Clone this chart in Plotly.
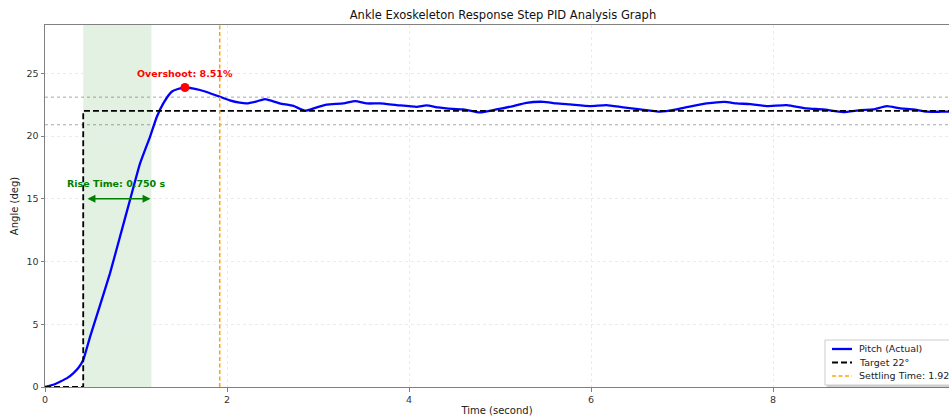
import plotly.graph_objects as go

# ---- data ----
time_s = [0, 0.1, 0.165, 0.25, 0.31, 0.37, 0.42, 0.495, 0.60, 0.714, 0.824, 0.934, 1.044, 1.154,
          1.227, 1.30, 1.392, 1.46, 1.538, 1.62, 1.703, 1.80, 1.923, 2.03, 2.14, 2.216, 2.32, 2.418,
          2.58, 2.73, 2.857, 2.97, 3.095, 3.28, 3.41, 3.535, 3.68, 3.865, 4.085, 4.19, 4.32, 4.41,
          4.6, 4.78, 4.96, 5.146, 5.29, 5.476, 5.62, 5.77, 5.99, 6.17, 6.355, 6.54, 6.76, 6.94,
          7.07, 7.27, 7.47, 7.60, 7.75, 7.93, 8.15, 8.37, 8.55, 8.77, 8.96, 9.10, 9.25, 9.40,
          9.54, 9.69, 9.85, 10.0]
pitch_deg = [0, 0.2, 0.42, 0.75, 1.09, 1.55, 2.15, 4.0, 6.4, 9.06, 11.98, 14.9, 17.8, 19.94,
             21.5, 22.6, 23.53, 23.75, 23.87, 23.8, 23.67, 23.45, 23.13, 22.85, 22.66, 22.6, 22.75, 22.95,
             22.6, 22.4, 22.02, 22.25, 22.5, 22.6, 22.79, 22.6, 22.6, 22.47, 22.33, 22.44, 22.28, 22.2,
             22.12, 21.88, 22.12, 22.39, 22.65, 22.73, 22.6, 22.52, 22.39, 22.47, 22.28, 22.12, 21.94, 22.12,
             22.33, 22.6, 22.73, 22.6, 22.55, 22.39, 22.47, 22.2, 22.12, 21.91, 22.07, 22.12, 22.39, 22.2,
             22.12, 21.94, 21.94, 21.95]

target_deg = 22.0
step_time = 0.42
end_time = 10.0
rise_start, rise_end = 0.42, 1.17
rise_time = 0.750
settling_time = 1.92
peak_time, peak_value = 1.538, 23.87
overshoot_pct = 8.51
band_hi, band_lo = 23.1, 20.9

x_max = 9.934
y_max = 28.85
x_ticks = [0, 2, 4, 6, 8, 10]
y_ticks = [0, 5, 10, 15, 20, 25]

legend_names = ["Pitch (Actual)", "Target 22°", "Settling Time: 1.92 s"]
legend_colors = ["blue", "black", "#FFA500"]
legend_dashes = ["solid", "6px,3px", "4px,2.5px"]
legend_widths = [2.3, 1.8, 1.5]

target_x = [0, step_time, step_time, end_time]
target_y = [0, 0, target_deg, target_deg]

FONT = "DejaVu Sans"

fig = go.Figure()

fig.add_trace(go.Scatter(x=time_s, y=pitch_deg, mode="lines", name=legend_names[0],
                         line=dict(color=legend_colors[0], width=legend_widths[0],
                                   shape="spline", smoothing=0.5)))
fig.add_trace(go.Scatter(x=target_x, y=target_y, mode="lines", name=legend_names[1],
                         line=dict(color=legend_colors[1], width=legend_widths[1], dash="6px,3px")))
fig.add_trace(go.Scatter(x=[settling_time, settling_time], y=[0, y_max], mode="lines",
                         name=legend_names[2],
                         line=dict(color=legend_colors[2], width=legend_widths[2], dash="4px,2.5px")))
fig.add_trace(go.Scatter(x=[peak_time], y=[peak_value], mode="markers", showlegend=False,
                         marker=dict(color="red", size=9)))

# rise time band
fig.add_shape(type="rect", xref="x", yref="y", x0=rise_start, x1=rise_end, y0=0, y1=y_max,
              fillcolor="rgba(0,128,0,0.11)", line=dict(width=0), layer="below")
# ±5% bands
for yv in (band_hi, band_lo):
    fig.add_shape(type="line", xref="paper", yref="y", x0=0, x1=1, y0=yv, y1=yv,
                  line=dict(color="#a8a8a8", width=1, dash="dot"), layer="below")

# rise arrow
fig.add_annotation(x=rise_end - 0.01, y=15, ax=rise_start + 0.03, ay=15, xref="x", yref="y",
                   axref="x", ayref="y", text="", showarrow=True, arrowhead=2, arrowside="end+start",
                   arrowsize=1, arrowwidth=1.6, arrowcolor="green")
fig.add_annotation(x=0.785, y=16.2, xref="x", yref="y", text="<b>Rise Time: 0.750 s</b>",
                   showarrow=False, font=dict(family=FONT, size=9.5, color="green"))
fig.add_annotation(x=peak_time, y=25.0, xref="x", yref="y", text="<b>Overshoot: 8.51%</b>",
                   showarrow=False, font=dict(family=FONT, size=9.5, color="red"))

# compact legend box (matplotlib-like)
lx0, lx1, ly0, ly1 = 0.8628, 1.03, 0.0055, 0.1298
fig.add_shape(type="rect", xref="paper", yref="paper", x0=lx0 + 0.002, x1=lx1 + 0.002,
              y0=ly0 - 0.006, y1=ly1 - 0.006, fillcolor="rgba(0,0,0,0.18)", line=dict(width=0))
fig.add_shape(type="rect", xref="paper", yref="paper", x0=lx0, x1=lx1, y0=ly0, y1=ly1,
              fillcolor="white", line=dict(color="#cccccc", width=1))
row_y = [0.105, 0.0677, 0.0304]
for name, col, dsh, w, yy in zip(legend_names, legend_colors, legend_dashes, legend_widths, row_y):
    fig.add_shape(type="line", xref="paper", yref="paper", x0=0.8706, x1=0.8927, y0=yy, y1=yy,
                  line=dict(color=col, width=w, dash=dsh))
    fig.add_annotation(x=0.8985, y=yy, xref="paper", yref="paper", text=name, showarrow=False,
                       xanchor="left", yanchor="middle",
                       font=dict(family=FONT, size=9.5, color="#222"))

axis_common = dict(showline=True, linecolor="#808080", linewidth=1, mirror=True,
                   ticks="outside", ticklen=3.5, tickcolor="#808080",
                   showgrid=True, gridcolor="#ebebeb", griddash="dot", gridwidth=1,
                   zeroline=False, tickfont=dict(family=FONT, size=9.5, color="#333"))

fig.update_layout(
    width=949, height=416,
    margin=dict(l=45, r=0, t=25, b=29, autoexpand=False),
    paper_bgcolor="white", plot_bgcolor="white",
    font=dict(family=FONT, size=10, color="#222"),
    title=dict(text="Ankle Exoskeleton Response Step PID Analysis Graph", x=0.53, xanchor="center",
               y=0.965, yanchor="middle", font=dict(family=FONT, size=11.5, color="#111")),
    xaxis=dict(range=[0, x_max], tickvals=x_ticks, ticktext=[str(v) for v in x_ticks],
               title=dict(text="Time (second)", standoff=4, font=dict(family=FONT, size=10)),
               **axis_common),
    yaxis=dict(range=[0, y_max], tickvals=y_ticks, ticktext=[str(v) for v in y_ticks],
               title=dict(text="Angle (deg)", standoff=6, font=dict(family=FONT, size=10)),
               **axis_common),
    showlegend=False,
)

fig.write_html("out.html", config={"displayModeBar": False},
               post_script="document.body.style.margin='0';document.body.style.padding='0';")
